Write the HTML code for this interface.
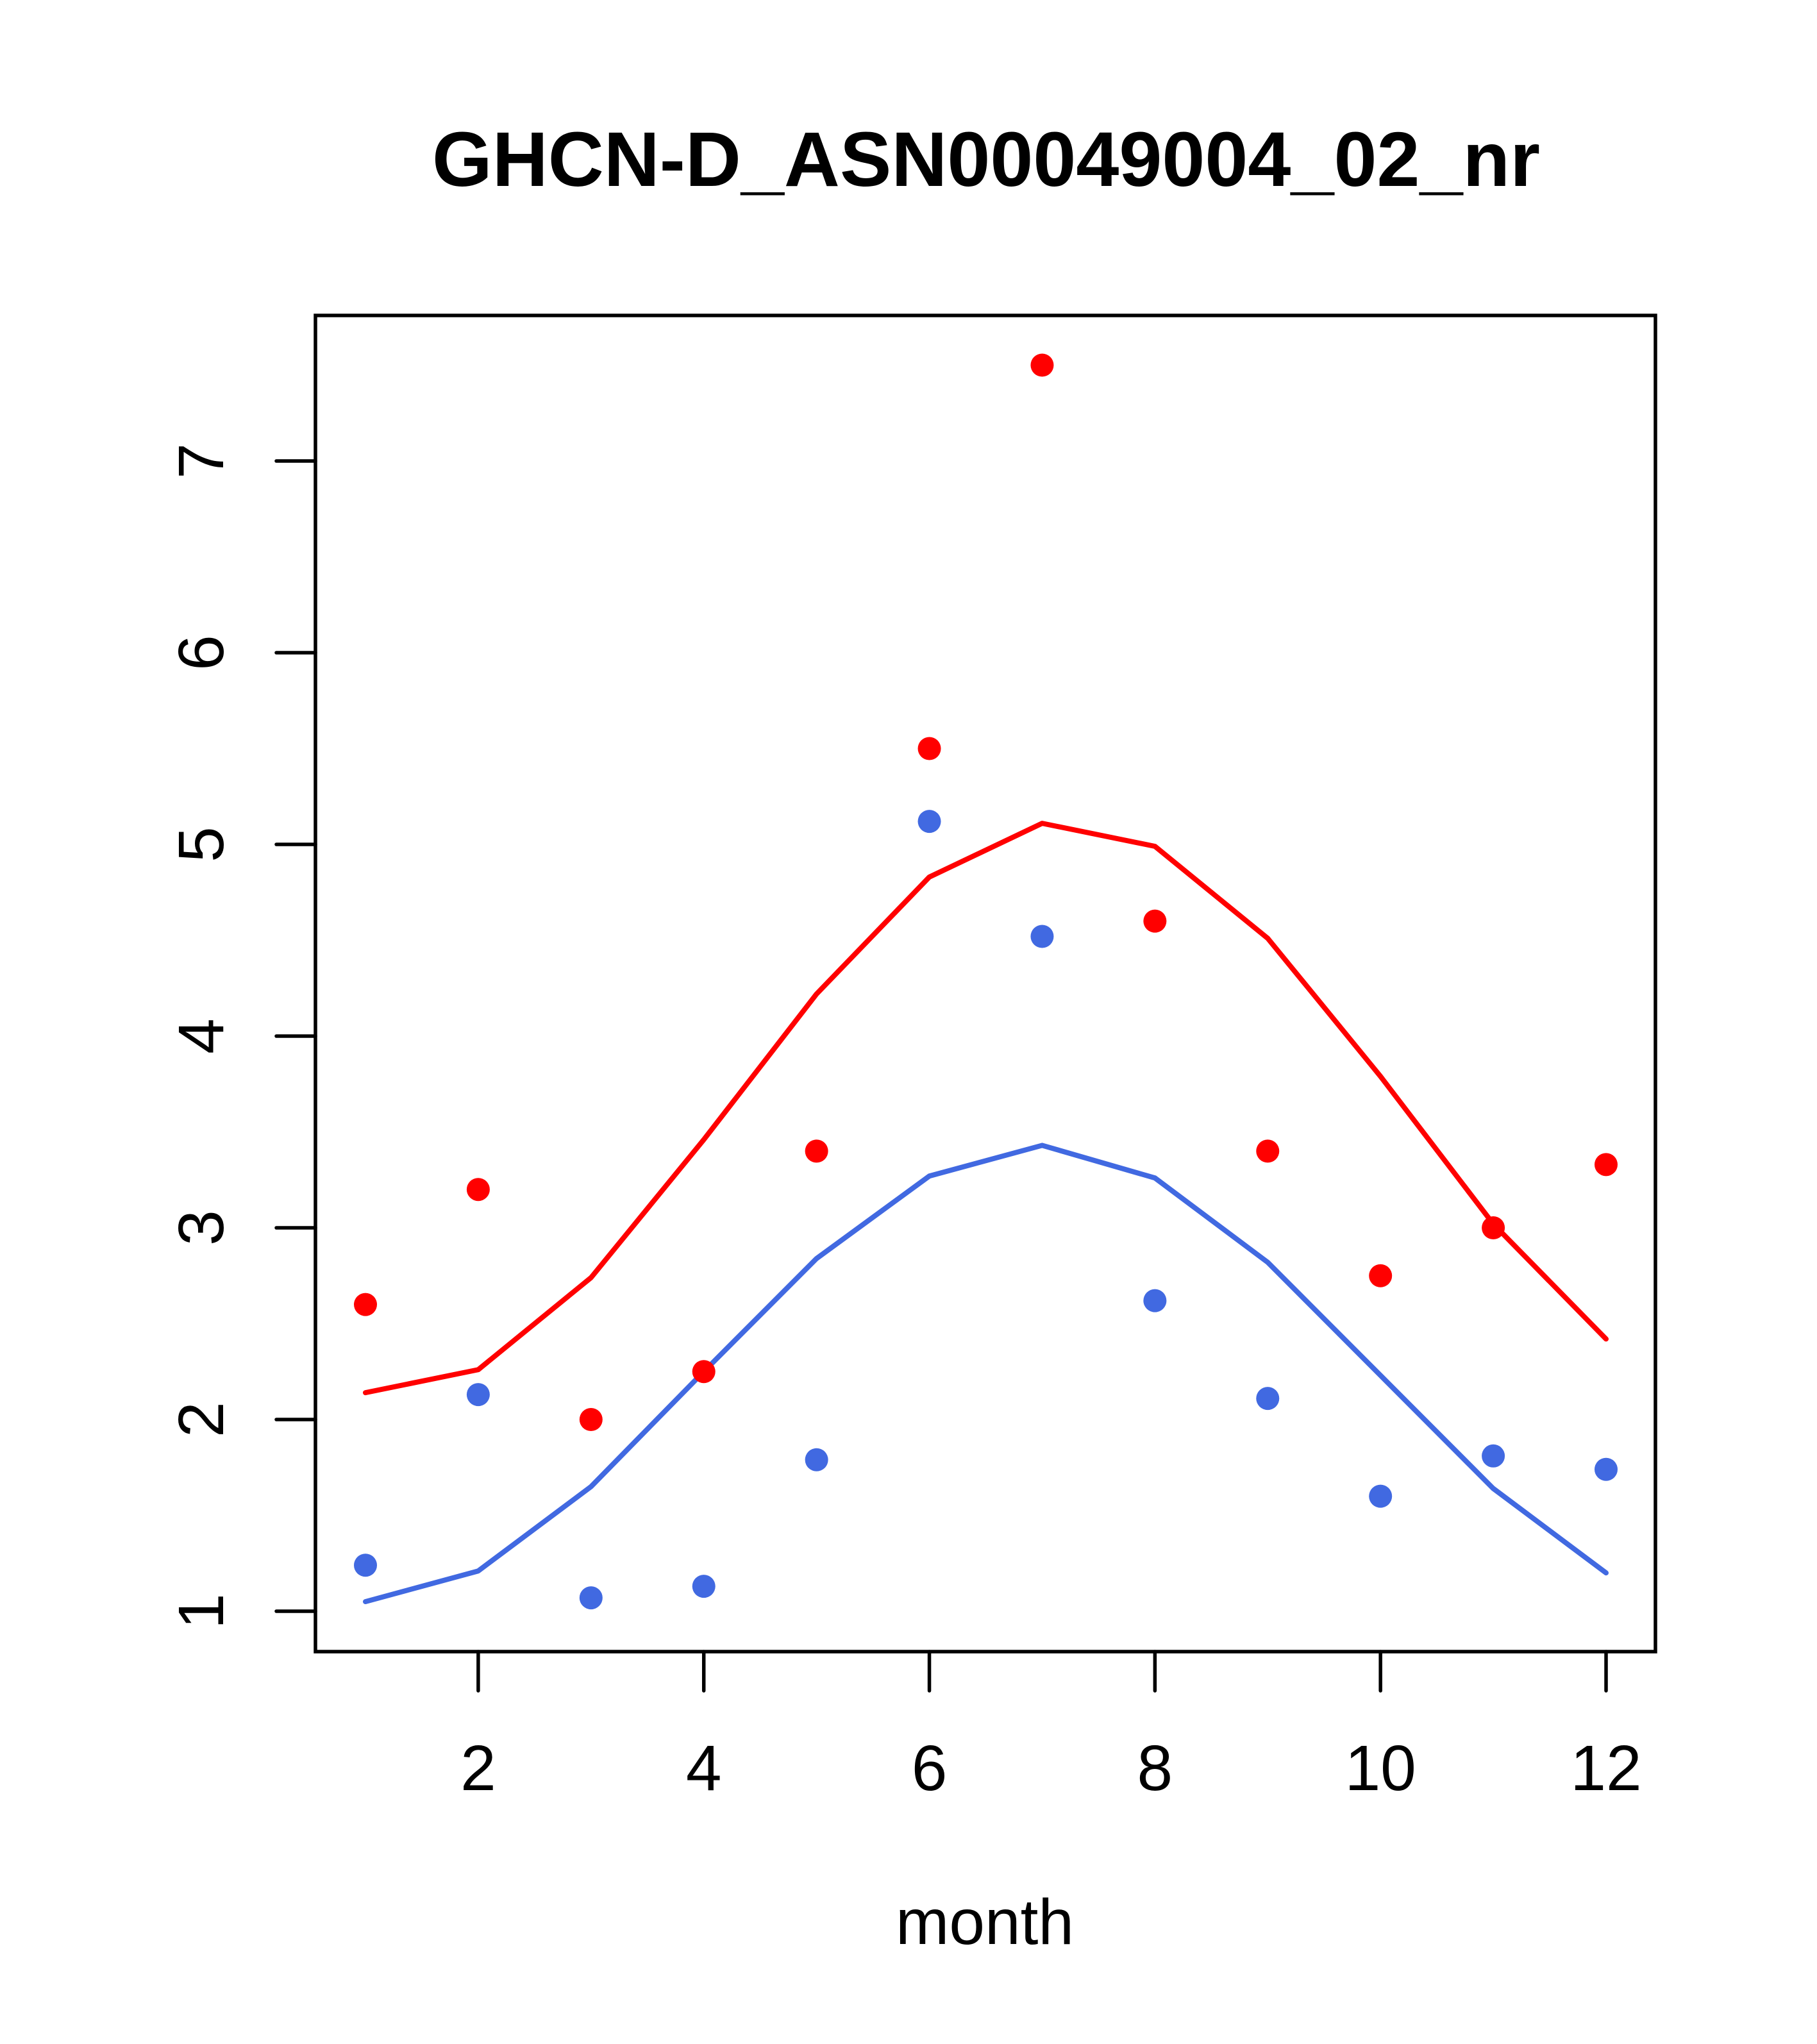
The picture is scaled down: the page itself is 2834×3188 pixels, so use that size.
<!DOCTYPE html>
<html><head><meta charset="utf-8"><style>html,body{margin:0;padding:0;background:#fff}svg{display:block}</style></head>
<body>
<svg id="chart" xmlns="http://www.w3.org/2000/svg" width="2834" height="3188" viewBox="0 0 2834 3188" font-family="Liberation Sans, sans-serif">
<rect width="2834" height="3188" fill="#fff"/>
<text x="674" y="290" font-size="121" font-weight="bold" textLength="1728" lengthAdjust="spacingAndGlyphs">GHCN-D_ASN00049004_02_nr</text>
<text x="1536" y="3032" font-size="100" text-anchor="middle">month</text>
<g id="axes"></g>
<g id="marks"></g>
<rect x="492" y="492" width="2090" height="2084" fill="none" stroke="#000" stroke-width="5.5"/>
</svg>
<script>
const months = [1,2,3,4,5,6,7,8,9,10,11,12];
const redPoints = [2.6,3.2,2.0,2.25,3.4,5.5,7.5,4.6,3.4,2.75,3.0,3.33];
const bluePoints = [1.24,2.13,1.07,1.13,1.79,5.12,4.52,2.62,2.11,1.6,1.81,1.74];
const redLine = [2.14,2.26,2.74,3.46,4.22,4.83,5.11,4.99,4.51,3.79,3.02,2.42];
const blueLine = [1.05,1.21,1.65,2.25,2.84,3.27,3.43,3.26,2.82,2.23,1.64,1.20];
const xTicks = [2,4,6,8,10,12];
const yTicks = [1,2,3,4,5,6,7];

const NS = 'http://www.w3.org/2000/svg';
function X(v){ return 570 + (v-1)*(2505-570)/11; }
function Y(v){ return 2513 - (v-1)*(2513-719)/6; }
function mk(tag, attrs, parent){
  const e = document.createElementNS(NS, tag);
  for (const k in attrs) e.setAttribute(k, attrs[k]);
  parent.appendChild(e);
  return e;
}
const axes = document.getElementById('axes');
const marks = document.getElementById('marks');
xTicks.forEach(t=>{
  const l = mk('line',{x1:X(t),x2:X(t),y1:2576,y2:2637,stroke:'#000','stroke-width':5.5,'stroke-linecap':'round'},axes);
  
  
  const tx = mk('text',{x:X(t),y:2792,'font-size':100,'text-anchor':'middle'},axes);
  tx.textContent = t;
  
  
});
yTicks.forEach(t=>{
  const l = mk('line',{x1:431,x2:492,y1:Y(t),y2:Y(t),stroke:'#000','stroke-width':5.5,'stroke-linecap':'round'},axes);
  
  
  const tx = mk('text',{x:0,y:0,'font-size':100,'text-anchor':'middle',transform:'translate(348,'+Y(t)+') rotate(-90)'},axes);
  tx.textContent = t;
  
  
});
function line(vals, color, name){
  const p = mk('polyline',{points:months.map((m,i)=>X(m)+','+Y(vals[i])).join(' '),fill:'none',stroke:color,'stroke-width':8,'stroke-linecap':'round','stroke-linejoin':'round'},marks);
  
  
}
function pts(vals, color, name){
  months.forEach((m,i)=>{
    const c = mk('circle',{cx:X(m),cy:Y(vals[i]),r:18,fill:color},marks);
    
    
  });
}
line(redLine,'#ff0000','red-line');
line(blueLine,'#4169e1','blue-line');
pts(redPoints,'#ff0000','red-point');
pts(bluePoints,'#4169e1','blue-point');
</script>
</body></html>
